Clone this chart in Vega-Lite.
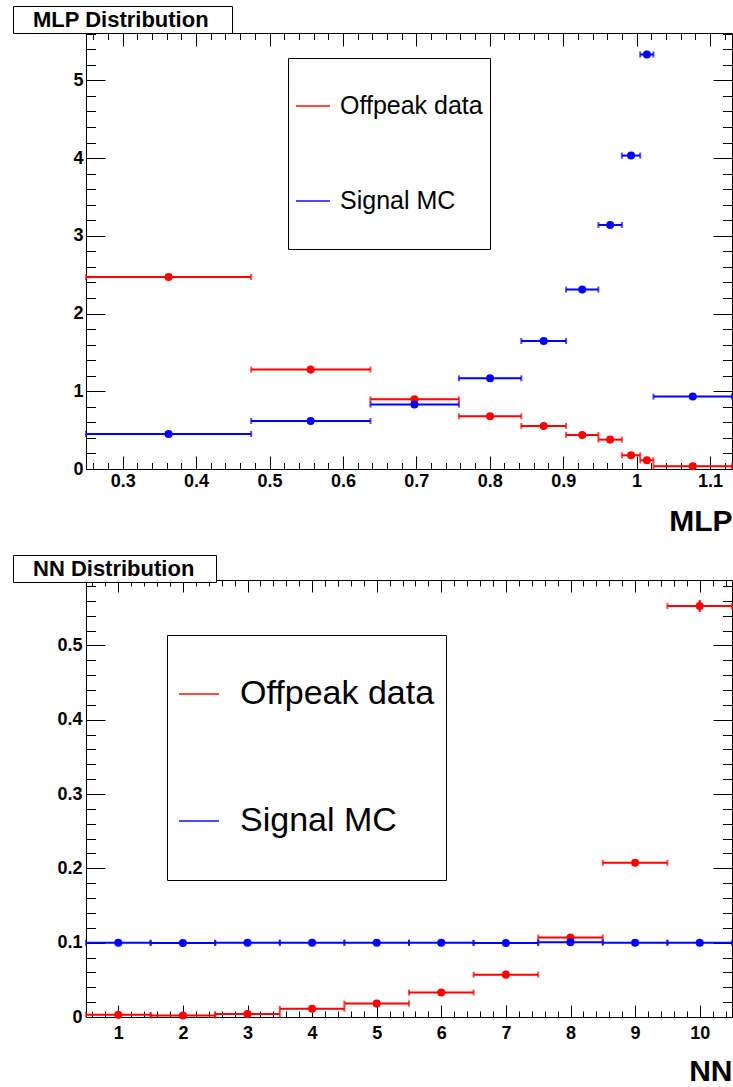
{
  "$schema": "https://vega.github.io/schema/vega-lite/v6.json",
  "padding": {"left": 12, "top": 5, "right": 0, "bottom": 0},
  "spacing": 17,
  "config": {
    "font": "Liberation Sans",
    "view": {"stroke": "black", "strokeWidth": 1},
    "axis": {"grid": false, "domain": false, "minExtent": 0, "labelFont": "Liberation Sans", "labelFontWeight": "bold", "labelFontSize": 18, "labelColor": "#000", "tickColor": "#000", "tickWidth": 1, "titleFont": "Liberation Sans", "titleFontWeight": "bold", "titleColor": "#000", "labelFlush": false, "labelOverlap": false},
    "legend": {"titleFont": "Liberation Sans", "labelFont": "Liberation Sans", "labelColor": "#000", "strokeColor": "#000", "fillColor": "#fff", "symbolType": "stroke", "symbolStrokeWidth": 2, "labelLimit": 500, "orient": "none"}
  },
  "datasets": {
    "mlp": [
      {"series": "Offpeak data", "x": 0.3625, "lo": 0.25, "hi": 0.475, "y": 2.471},
      {"series": "Offpeak data", "x": 0.556, "lo": 0.475, "hi": 0.6375, "y": 1.279},
      {"series": "Offpeak data", "x": 0.6975, "lo": 0.6375, "hi": 0.758, "y": 0.897},
      {"series": "Offpeak data", "x": 0.8005, "lo": 0.758, "hi": 0.843, "y": 0.678},
      {"series": "Offpeak data", "x": 0.8735, "lo": 0.843, "hi": 0.904, "y": 0.553},
      {"series": "Offpeak data", "x": 0.926, "lo": 0.904, "hi": 0.948, "y": 0.438},
      {"series": "Offpeak data", "x": 0.964, "lo": 0.948, "hi": 0.98, "y": 0.378},
      {"series": "Offpeak data", "x": 0.9925, "lo": 0.98, "hi": 1.005, "y": 0.176},
      {"series": "Offpeak data", "x": 1.014, "lo": 1.005, "hi": 1.023, "y": 0.112},
      {"series": "Offpeak data", "x": 1.0765, "lo": 1.023, "hi": 1.13, "y": 0.035},
      {"series": "Signal MC", "x": 0.3625, "lo": 0.25, "hi": 0.475, "y": 0.45},
      {"series": "Signal MC", "x": 0.556, "lo": 0.475, "hi": 0.6375, "y": 0.618},
      {"series": "Signal MC", "x": 0.6975, "lo": 0.6375, "hi": 0.758, "y": 0.829},
      {"series": "Signal MC", "x": 0.8005, "lo": 0.758, "hi": 0.843, "y": 1.167},
      {"series": "Signal MC", "x": 0.8735, "lo": 0.843, "hi": 0.904, "y": 1.647},
      {"series": "Signal MC", "x": 0.926, "lo": 0.904, "hi": 0.948, "y": 2.309},
      {"series": "Signal MC", "x": 0.964, "lo": 0.948, "hi": 0.98, "y": 3.14},
      {"series": "Signal MC", "x": 0.9925, "lo": 0.98, "hi": 1.005, "y": 4.033},
      {"series": "Signal MC", "x": 1.014, "lo": 1.005, "hi": 1.023, "y": 5.333},
      {"series": "Signal MC", "x": 1.0765, "lo": 1.023, "hi": 1.13, "y": 0.932}
    ],
    "nn": [
      {"series": "Offpeak data", "x": 1, "lo": 0.5, "hi": 1.5, "y": 0.003},
      {"series": "Offpeak data", "x": 2, "lo": 1.5, "hi": 2.5, "y": 0.002},
      {"series": "Offpeak data", "x": 3, "lo": 2.5, "hi": 3.5, "y": 0.004},
      {"series": "Offpeak data", "x": 4, "lo": 3.5, "hi": 4.5, "y": 0.011},
      {"series": "Offpeak data", "x": 5, "lo": 4.5, "hi": 5.5, "y": 0.018},
      {"series": "Offpeak data", "x": 6, "lo": 5.5, "hi": 6.5, "y": 0.033},
      {"series": "Offpeak data", "x": 7, "lo": 6.5, "hi": 7.5, "y": 0.057},
      {"series": "Offpeak data", "x": 8, "lo": 7.5, "hi": 8.5, "y": 0.107},
      {"series": "Offpeak data", "x": 9, "lo": 8.5, "hi": 9.5, "y": 0.2075},
      {"series": "Offpeak data", "x": 10, "lo": 9.5, "hi": 10.5, "y": 0.553},
      {"series": "Signal MC", "x": 1, "lo": 0.5, "hi": 1.5, "y": 0.1},
      {"series": "Signal MC", "x": 2, "lo": 1.5, "hi": 2.5, "y": 0.0995},
      {"series": "Signal MC", "x": 3, "lo": 2.5, "hi": 3.5, "y": 0.1},
      {"series": "Signal MC", "x": 4, "lo": 3.5, "hi": 4.5, "y": 0.1},
      {"series": "Signal MC", "x": 5, "lo": 4.5, "hi": 5.5, "y": 0.1},
      {"series": "Signal MC", "x": 6, "lo": 5.5, "hi": 6.5, "y": 0.1},
      {"series": "Signal MC", "x": 7, "lo": 6.5, "hi": 7.5, "y": 0.0995},
      {"series": "Signal MC", "x": 8, "lo": 7.5, "hi": 8.5, "y": 0.1005},
      {"series": "Signal MC", "x": 9, "lo": 8.5, "hi": 9.5, "y": 0.1},
      {"series": "Signal MC", "x": 10, "lo": 9.5, "hi": 10.5, "y": 0.1}
    ],
    "nnerr": [
      {"series": "Offpeak data", "x": 10, "ylo": 0.545, "yhi": 0.561}
    ]
  },
  "resolve": {"legend": {"color": "independent", "shape": "independent"}, "scale": {"color": "independent", "shape": "independent"}},
  "vconcat": [
    {
      "width": 646,
      "height": 436,
      "data": {"name": "mlp"},
      "resolve": {"axis": {"x": "independent", "y": "independent"}},
      "layer": [
        {
          "mark": {"type": "rule", "strokeWidth": 2},
          "encoding": {
            "x": {"field": "lo", "type": "quantitative", "scale": {"domain": [0.25, 1.13], "nice": false, "zero": false}, "axis": {"orient": "bottom", "values": [0.3, 0.4, 0.5, 0.6, 0.7, 0.8, 0.9, 1, 1.1], "format": "~g", "tickSize": -13, "labelPadding": 16, "title": "MLP", "titleFontSize": 30, "titleAnchor": "end", "titlePadding": 16}},
            "x2": {"field": "hi"},
            "y": {"field": "y", "type": "quantitative", "scale": {"domain": [0, 5.61], "nice": false}, "axis": {"orient": "left", "values": [0, 1, 2, 3, 4, 5], "format": "d", "tickSize": -19, "labelPadding": 22, "title": null}},
            "color": {"field": "series", "type": "nominal", "scale": {"domain": ["Offpeak data", "Signal MC"], "range": ["#ff0000", "#0000ff"]}, "legend": {"title": null, "legendX": 202, "legendY": 25, "symbolSize": 1156, "symbolStrokeWidth": 2, "labelFontSize": 25, "labelOffset": 9, "padding": 7, "clipHeight": 82, "rowPadding": 13}}
          }
        },
        {
          "mark": {"type": "tick", "orient": "vertical", "size": 6, "thickness": 2},
          "encoding": {
            "x": {"field": "lo", "type": "quantitative", "scale": {"domain": [0.25, 1.13], "nice": false, "zero": false}, "axis": {"orient": "bottom", "tickCount": 44, "tickSize": -6.5, "labels": false, "title": null}},
            "y": {"field": "y", "type": "quantitative", "scale": {"domain": [0, 5.61], "nice": false}, "axis": {"orient": "left", "tickCount": 28, "tickSize": -9.5, "labels": false, "title": null}},
            "color": {"field": "series", "type": "nominal"}
          }
        },
        {
          "mark": {"type": "tick", "orient": "vertical", "size": 6, "thickness": 2},
          "encoding": {
            "x": {"field": "hi", "type": "quantitative", "scale": {"domain": [0.25, 1.13], "nice": false, "zero": false}, "axis": {"orient": "top", "values": [0.3, 0.4, 0.5, 0.6, 0.7, 0.8, 0.9, 1, 1.1], "tickSize": -13, "labels": false, "title": null}},
            "y": {"field": "y", "type": "quantitative", "scale": {"domain": [0, 5.61], "nice": false}, "axis": {"orient": "right", "values": [0, 1, 2, 3, 4, 5], "tickSize": -19, "labels": false, "title": null}},
            "color": {"field": "series", "type": "nominal"}
          }
        },
        {
          "mark": {"type": "point", "filled": true, "size": 65, "opacity": 1},
          "encoding": {
            "x": {"field": "x", "type": "quantitative", "scale": {"domain": [0.25, 1.13], "nice": false, "zero": false}, "axis": {"orient": "top", "tickCount": 44, "tickSize": -6.5, "labels": false, "title": null}},
            "y": {"field": "y", "type": "quantitative", "scale": {"domain": [0, 5.61], "nice": false}, "axis": {"orient": "right", "tickCount": 28, "tickSize": -9.5, "labels": false, "title": null}},
            "color": {"field": "series", "type": "nominal"},
            "shape": {"datum": "MLP Distribution", "type": "nominal", "scale": {"range": ["circle"]}, "legend": {"title": ".", "titleOrient": "right", "titleColor": "#ffffff", "titleFontSize": 10, "titlePadding": 20, "legendX": -73, "legendY": -27, "symbolOpacity": 0, "symbolSize": 0, "symbolStrokeWidth": 0, "symbolType": "circle", "labelFontSize": 22, "labelFontWeight": "bold", "labelOffset": -2, "padding": 0, "clipHeight": 27}}
          }
        }
      ]
    },
    {
      "width": 646,
      "height": 437,
      "resolve": {"axis": {"x": "independent", "y": "independent"}},
      "layer": [
        {
          "data": {"name": "nn"},
          "mark": {"type": "rule", "strokeWidth": 2},
          "encoding": {
            "x": {"field": "lo", "type": "quantitative", "scale": {"domain": [0.5, 10.5], "nice": false, "zero": false}, "axis": {"orient": "bottom", "values": [1, 2, 3, 4, 5, 6, 7, 8, 9, 10], "format": "d", "tickSize": -12, "labelPadding": 19, "title": "NN", "titleFontSize": 30, "titleAnchor": "end", "titlePadding": 14}},
            "x2": {"field": "hi"},
            "y": {"field": "y", "type": "quantitative", "scale": {"domain": [0, 0.588], "nice": false}, "axis": {"orient": "left", "values": [0, 0.1, 0.2, 0.3, 0.4, 0.5], "format": "~g", "tickSize": -19, "labelPadding": 23, "title": null}},
            "color": {"field": "series", "type": "nominal", "scale": {"domain": ["Offpeak data", "Signal MC"], "range": ["#ff0000", "#0000ff"]}, "legend": {"title": null, "legendX": 81, "legendY": 55, "symbolSize": 1600, "symbolStrokeWidth": 2, "labelFontSize": 34, "labelOffset": 20, "padding": 11, "clipHeight": 96, "rowPadding": 31}}
          }
        },
        {
          "data": {"name": "nn"},
          "mark": {"type": "tick", "orient": "vertical", "size": 6, "thickness": 2},
          "encoding": {
            "x": {"field": "lo", "type": "quantitative", "scale": {"domain": [0.5, 10.5], "nice": false, "zero": false}, "axis": {"orient": "bottom", "tickCount": 50, "tickSize": -6, "labels": false, "title": null}},
            "y": {"field": "y", "type": "quantitative", "scale": {"domain": [0, 0.588], "nice": false}, "axis": {"orient": "left", "tickCount": 29, "tickSize": -9.5, "labels": false, "title": null}},
            "color": {"field": "series", "type": "nominal"}
          }
        },
        {
          "data": {"name": "nn"},
          "mark": {"type": "tick", "orient": "vertical", "size": 6, "thickness": 2},
          "encoding": {
            "x": {"field": "hi", "type": "quantitative", "scale": {"domain": [0.5, 10.5], "nice": false, "zero": false}, "axis": {"orient": "top", "values": [1, 2, 3, 4, 5, 6, 7, 8, 9, 10], "tickSize": -12, "labels": false, "title": null}},
            "y": {"field": "y", "type": "quantitative", "scale": {"domain": [0, 0.588], "nice": false}, "axis": {"orient": "right", "values": [0, 0.1, 0.2, 0.3, 0.4, 0.5], "tickSize": -19, "labels": false, "title": null}},
            "color": {"field": "series", "type": "nominal"}
          }
        },
        {
          "data": {"name": "nnerr"},
          "mark": {"type": "rule", "strokeWidth": 2},
          "encoding": {
            "x": {"field": "x", "type": "quantitative", "scale": {"domain": [0.5, 10.5], "nice": false, "zero": false}, "axis": null},
            "y": {"field": "ylo", "type": "quantitative", "scale": {"domain": [0, 0.588], "nice": false}, "axis": null},
            "y2": {"field": "yhi"},
            "color": {"field": "series", "type": "nominal"}
          }
        },
        {
          "data": {"name": "nn"},
          "mark": {"type": "point", "filled": true, "size": 65, "opacity": 1},
          "encoding": {
            "x": {"field": "x", "type": "quantitative", "scale": {"domain": [0.5, 10.5], "nice": false, "zero": false}, "axis": {"orient": "top", "tickCount": 50, "tickSize": -6, "labels": false, "title": null}},
            "y": {"field": "y", "type": "quantitative", "scale": {"domain": [0, 0.588], "nice": false}, "axis": {"orient": "right", "tickCount": 29, "tickSize": -9.5, "labels": false, "title": null}},
            "color": {"field": "series", "type": "nominal"},
            "shape": {"datum": "NN Distribution", "type": "nominal", "scale": {"range": ["circle"]}, "legend": {"title": ".", "titleOrient": "right", "titleColor": "#ffffff", "titleFontSize": 10, "titlePadding": 19, "legendX": -73, "legendY": -25, "symbolOpacity": 0, "symbolSize": 0, "symbolStrokeWidth": 0, "symbolType": "circle", "labelFontSize": 22, "labelFontWeight": "bold", "labelOffset": -2, "padding": 0, "clipHeight": 27}}
          }
        }
      ]
    }
  ]
}
